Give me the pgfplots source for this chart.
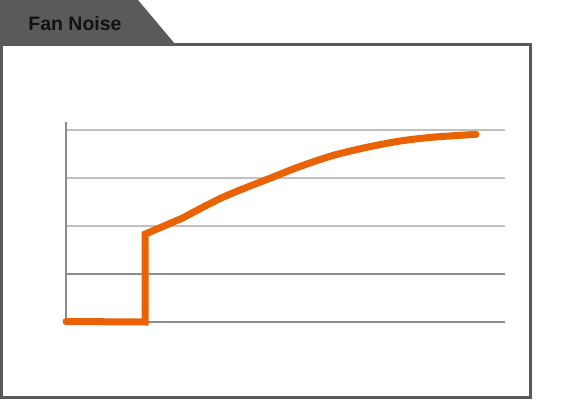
\documentclass[border=0pt]{standalone}
\usepackage{pgfplots}
\pgfplotsset{compat=1.18}
\usepackage{fontspec}
\setmainfont{Liberation Sans}
\definecolor{frame}{RGB}{90,90,90}
\definecolor{lineor}{RGB}{234,98,4}
\definecolor{gridl}{RGB}{192,192,192}
\definecolor{gridd}{RGB}{140,140,140}
\begin{document}
\begin{tikzpicture}[x=0.75pt,y=0.75pt]
\useasboundingbox (0,0) rectangle (577,399);
\fill[white] (0,0) rectangle (577,399);
% frame
\draw[frame, line width=2.25pt] (1.5,1.5) rectangle (530.5,354.5);
% tab
\fill[frame] (0,399) -- (138,399) -- (175,355) -- (0,355) -- cycle;
\node[anchor=base, font=\bfseries\fontsize{14.6pt}{16pt}\selectfont, text=black!93, inner sep=0pt] at (75,368) {Fan Noise};
\begin{axis}[
  at={(49.5pt,57.75pt)}, anchor=origin,
  scale only axis, width=329.25pt, height=150pt,
  xmin=0, xmax=439, ymin=0, ymax=4.1667,
  axis x line=bottom, axis y line=left,
  axis line style={-, draw=gridd, line width=1.5pt},
  xtick=\empty, ytick={2,3,4}, yticklabels={},
  extra y ticks={1}, extra y tick labels={},
  extra y tick style={grid style={draw=gridd, line width=1pt}},
  major tick length=0pt,
  ymajorgrids, grid style={draw=gridl, line width=1pt},
  clip=false,
]
\addplot[lineor, line width=5.25pt, line cap=round, line join=miter, mark=none] coordinates {
(0,0.01) (79,0) (79,1.83) (117,2.17)
};
\addplot[lineor, line width=5.25pt, line cap=round, line join=round, mark=none, smooth, tension=0.5] coordinates {
(117,2.17) (157,2.60) (207,3.02) (234,3.24) (267,3.47) (301,3.64) (334,3.77) (367,3.85) (410,3.91)
};
\end{axis}
\end{tikzpicture}
\end{document}
